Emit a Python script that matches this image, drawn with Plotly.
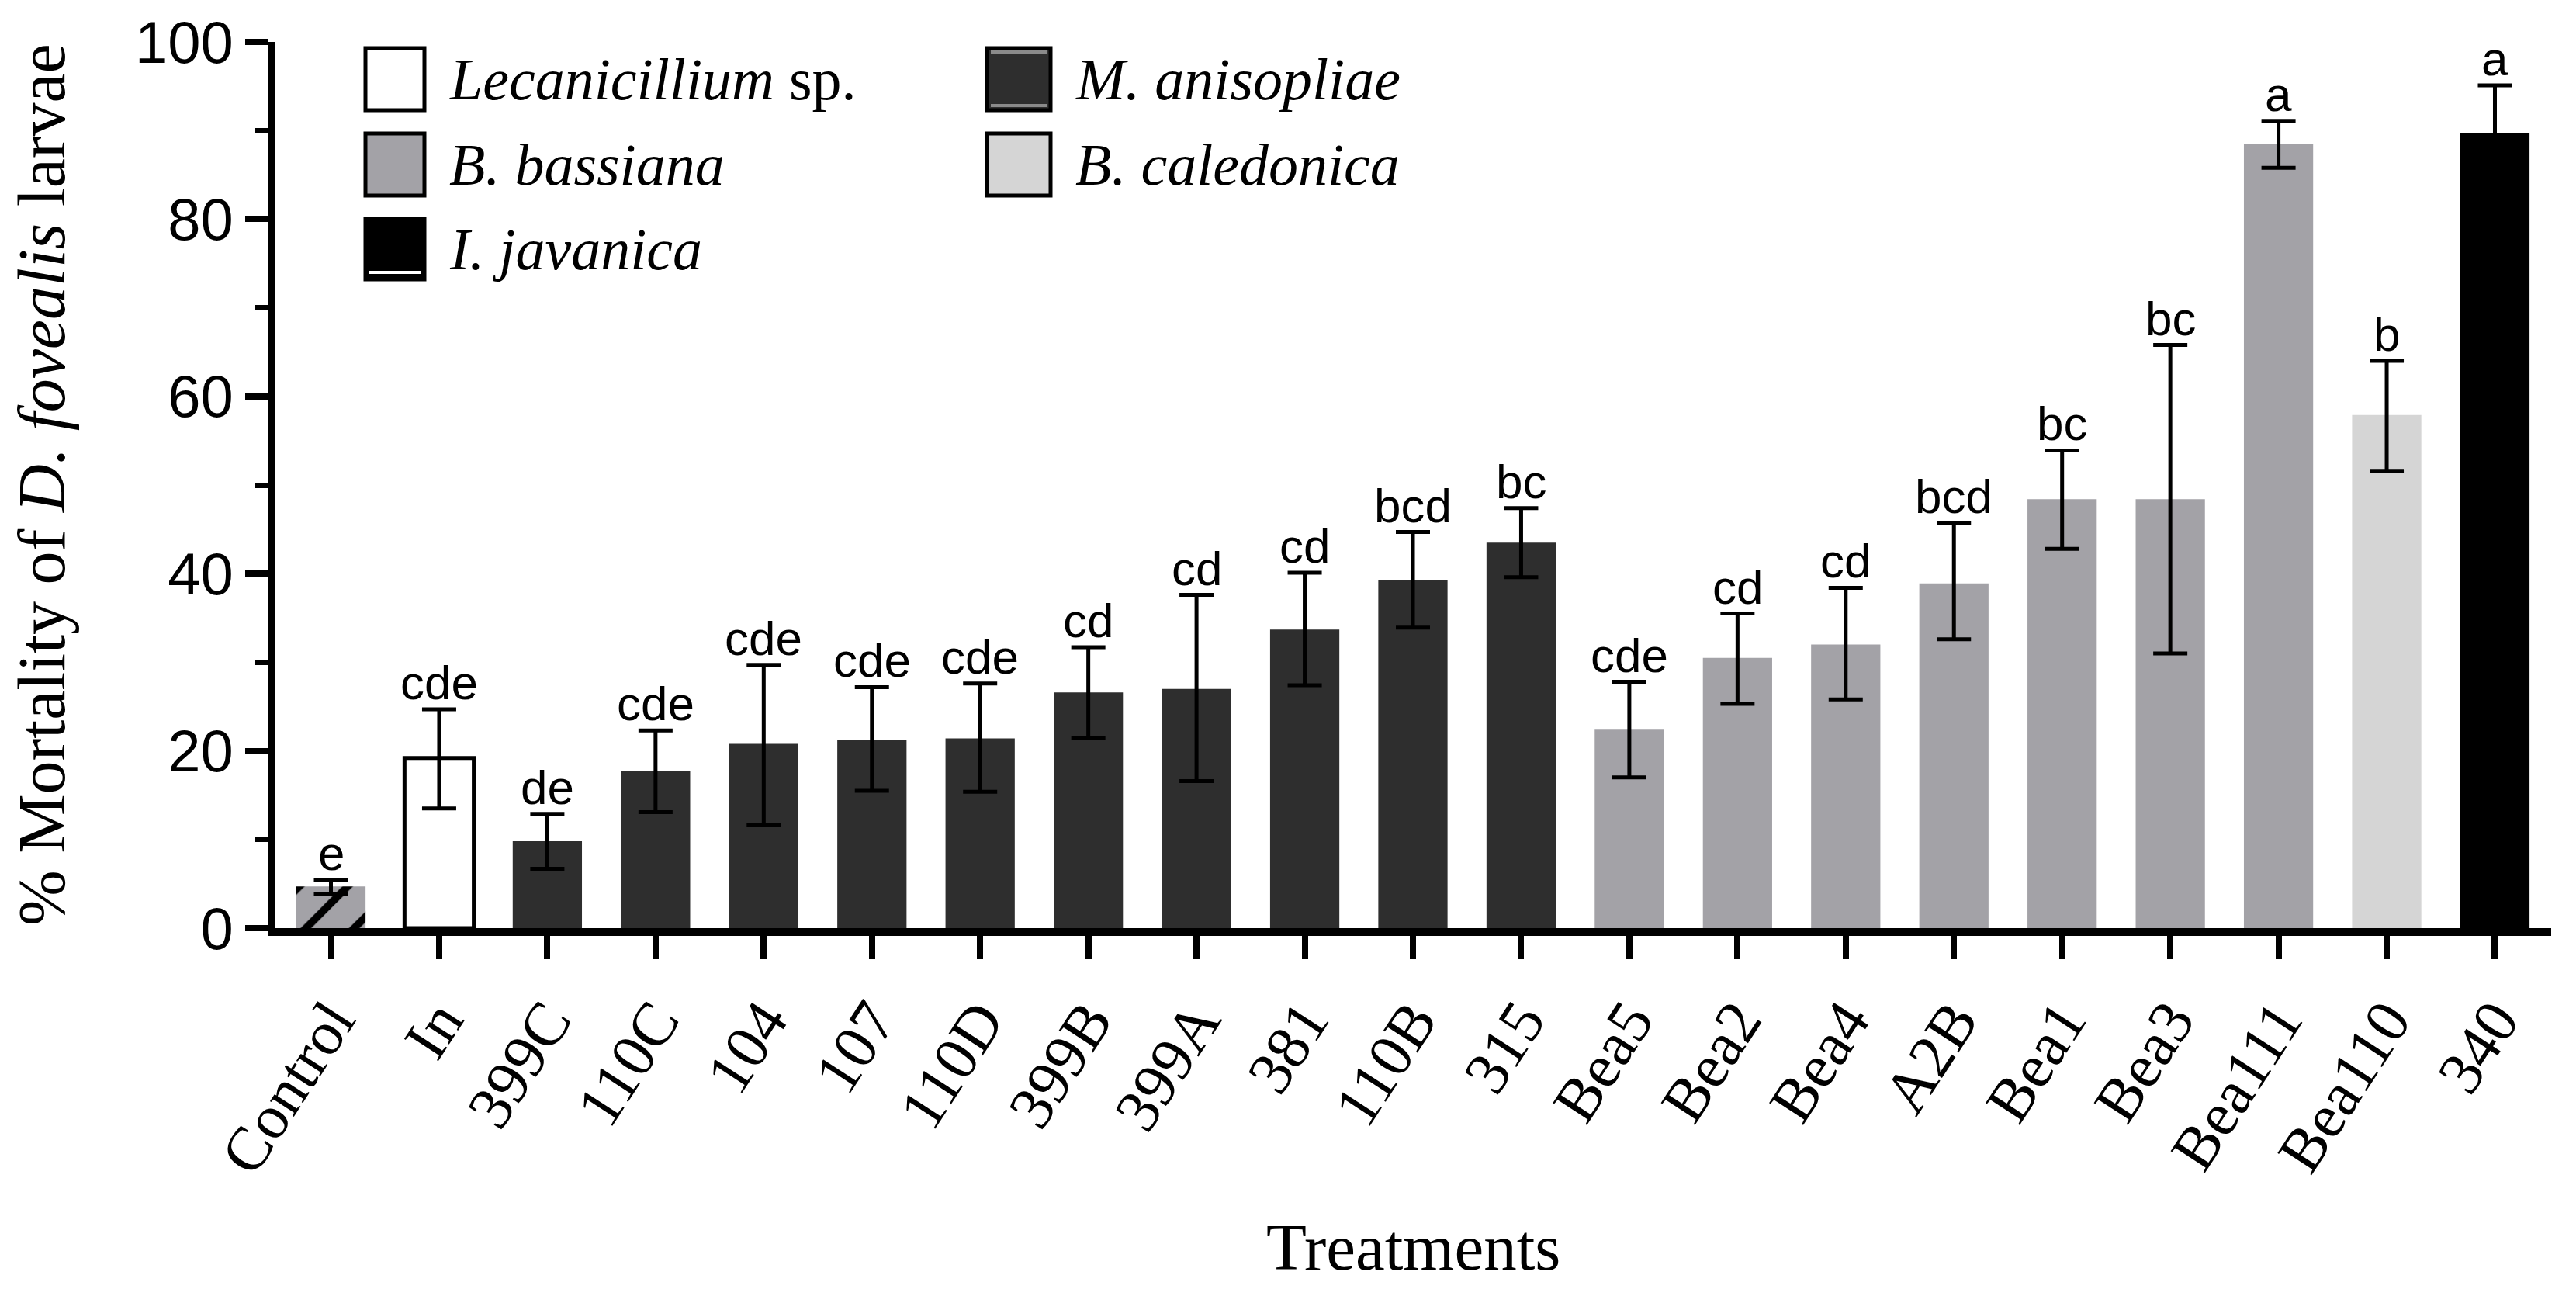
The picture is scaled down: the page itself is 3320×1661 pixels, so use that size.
import plotly.graph_objects as go

# ---------------- data ----------------
categories = ["Control", "In", "399C", "110C", "104", "107", "110D", "399B", "399A",
              "381", "110B", "315", "Bea5", "Bea2", "Bea4", "A2B", "Bea1", "Bea3",
              "Bea111", "Bea110", "340"]
groups = ["Control", "Lecanicillium", "M. anisopliae", "M. anisopliae", "M. anisopliae",
          "M. anisopliae", "M. anisopliae", "M. anisopliae", "M. anisopliae", "M. anisopliae",
          "M. anisopliae", "M. anisopliae", "B. bassiana", "B. bassiana", "B. bassiana",
          "B. bassiana", "B. bassiana", "B. bassiana", "B. bassiana", "B. caledonica",
          "I. javanica"]
mortality = [4.7, 19.2, 9.8, 17.7, 20.8, 21.2, 21.4, 26.6, 27.0,
             33.7, 39.3, 43.5, 22.4, 30.5, 32.0, 38.9, 48.4, 48.4,
             88.5, 57.9, 89.7]
err_plus = [0.7, 5.5, 3.1, 4.6, 8.9, 6.0, 6.2, 5.1, 10.6,
            6.4, 5.4, 3.9, 5.4, 5.0, 6.4, 6.8, 5.5, 17.4,
            2.6, 6.1, 5.4]
err_minus = [0.8, 5.7, 3.1, 4.6, 9.2, 5.7, 6.0, 5.1, 10.4,
             6.3, 5.4, 3.9, 5.4, 5.2, 6.2, 6.3, 5.6, 17.4,
             2.7, 6.3, 5.4]
letters = ["e", "cde", "de", "cde", "cde", "cde", "cde", "cd", "cd",
           "cd", "bcd", "bc", "cde", "cd", "cd", "bcd", "bc", "bc",
           "a", "b", "a"]
y_ticks = [0, 20, 40, 60, 80, 100]
y_minor_ticks = [10, 30, 50, 70, 90]

# ---------------- styles ----------------
W, H = 3320, 1661
L, R, T, B = 354, 3288, 54, 1196  # plot area in pixels

fill = {
    "Control": "#a3a2a7",
    "Lecanicillium": "#ffffff",
    "M. anisopliae": "#2e2e2e",
    "B. bassiana": "#a3a2a7",
    "B. caledonica": "#d5d5d5",
    "I. javanica": "#000000",
}
SERIF = "Liberation Serif, Times New Roman, serif"
SANS = "Liberation Sans, Arial, sans-serif"

fig = go.Figure()
for g in ["Control", "Lecanicillium", "M. anisopliae", "B. bassiana", "B. caledonica", "I. javanica"]:
    idx = [i for i, gg in enumerate(groups) if gg == g]
    marker = dict(color=fill[g])
    if g == "Lecanicillium":
        marker["line"] = dict(color="black", width=5)
    else:
        marker["line"] = dict(color=fill[g], width=0)
    if g == "Control":
        marker["pattern"] = dict(shape="/", fgcolor="black", bgcolor=fill[g],
                                 fillmode="replace", size=44, solidity=0.22)
    fig.add_trace(go.Bar(
        x=[categories[i] for i in idx],
        y=[mortality[i] for i in idx],
        width=0.64,
        marker=marker,
        error_y=dict(type="data", symmetric=False,
                     array=[err_plus[i] for i in idx],
                     arrayminus=[err_minus[i] for i in idx],
                     color="black", thickness=5, width=22),
        showlegend=False,
        name=g,
    ))

# significance letters (x given as category index so numeric-looking names are safe)
annotations = []
for i, (v, e, lt) in enumerate(zip(mortality, err_plus, letters)):
    annotations.append(dict(x=i, y=v + e, xref="x", yref="y", text=lt, showarrow=False,
                            yanchor="bottom", yshift=-2,
                            font=dict(family=SANS, size=62, color="black")))

def px(xp):
    return (xp - L) / (R - L)

def py(yp):
    return (B - yp) / (B - T)

# custom legend (two columns)
legend_items = [
    ("<i>Lecanicillium</i> sp.", "#ffffff", 471, 547, 62, 142),
    ("<i>B. bassiana</i>", "#a3a2a7", 471, 547, 172, 252),
    ("<i>I. javanica</i>", "#000000", 471, 547, 282, 360),
    ("<i>M. anisopliae</i>", "#2e2e2e", 1272, 1354, 62, 142),
    ("<i>B. caledonica</i>", "#d5d5d5", 1272, 1354, 172, 252),
]
shapes = []
for text, col, x0, x1, y0, y1 in legend_items:
    shapes.append(dict(type="rect", xref="paper", yref="paper",
                       x0=px(x0), x1=px(x1), y0=py(y1), y1=py(y0),
                       fillcolor=col, line=dict(color="black", width=5)))
    annotations.append(dict(x=px(x1 + 30), y=py((y0 + y1) / 2), xref="paper", yref="paper",
                            text=text, showarrow=False, xanchor="left", yanchor="middle",
                            font=dict(family=SERIF, size=76, color="black")))
# small artefact stripes seen in the legend swatches
shapes.append(dict(type="line", xref="paper", yref="paper", x0=px(476), x1=px(542),
                   y0=py(351), y1=py(351), line=dict(color="white", width=4)))
for yy in (67, 136):
    shapes.append(dict(type="line", xref="paper", yref="paper", x0=px(1277), x1=px(1349),
                       y0=py(yy), y1=py(yy), line=dict(color="#8a8a8a", width=4)))

# axis titles
annotations.append(dict(x=px(54), y=0.5, xref="paper", yref="paper",
                        text="% Mortality of <i>D. fovealis</i> larvae", textangle=-90,
                        showarrow=False, xanchor="center", yanchor="middle",
                        font=dict(family=SERIF, size=86, color="black")))
annotations.append(dict(x=0.5, y=py(1607), xref="paper", yref="paper",
                        text="Treatments", showarrow=False, xanchor="center", yanchor="middle",
                        font=dict(family=SERIF, size=85, color="black")))

fig.update_layout(
    width=W, height=H,
    margin=dict(l=L, r=W - R, t=T, b=H - B, autoexpand=False),
    paper_bgcolor="white", plot_bgcolor="white",
    barmode="overlay",
    showlegend=False,
    annotations=annotations,
    shapes=shapes,
    xaxis=dict(
        type="category", categoryorder="array", categoryarray=categories,
        range=[-0.52, len(categories) - 0.48],
        showline=True, linecolor="black", linewidth=10,
        ticks="outside", ticklen=30, tickwidth=8, tickcolor="black",
        tickangle=-57, tickfont=dict(family=SERIF, size=80, color="black"),
        showgrid=False, zeroline=False, automargin=False,
    ),
    yaxis=dict(
        range=[0, 100], tickvals=y_ticks,
        showline=True, linecolor="black", linewidth=8,
        ticks="outside", ticklen=30, tickwidth=8, tickcolor="black",
        tickfont=dict(family=SANS, size=76, color="black"),
        minor=dict(tickvals=y_minor_ticks, ticks="outside", ticklen=17, tickwidth=7,
                   tickcolor="black", showgrid=False),
        showgrid=False, zeroline=False, automargin=False,
    ),
)

fig.write_html("out.html", config={"displayModeBar": False},
               post_script="document.body.style.margin='0';document.body.style.overflow='hidden';")
